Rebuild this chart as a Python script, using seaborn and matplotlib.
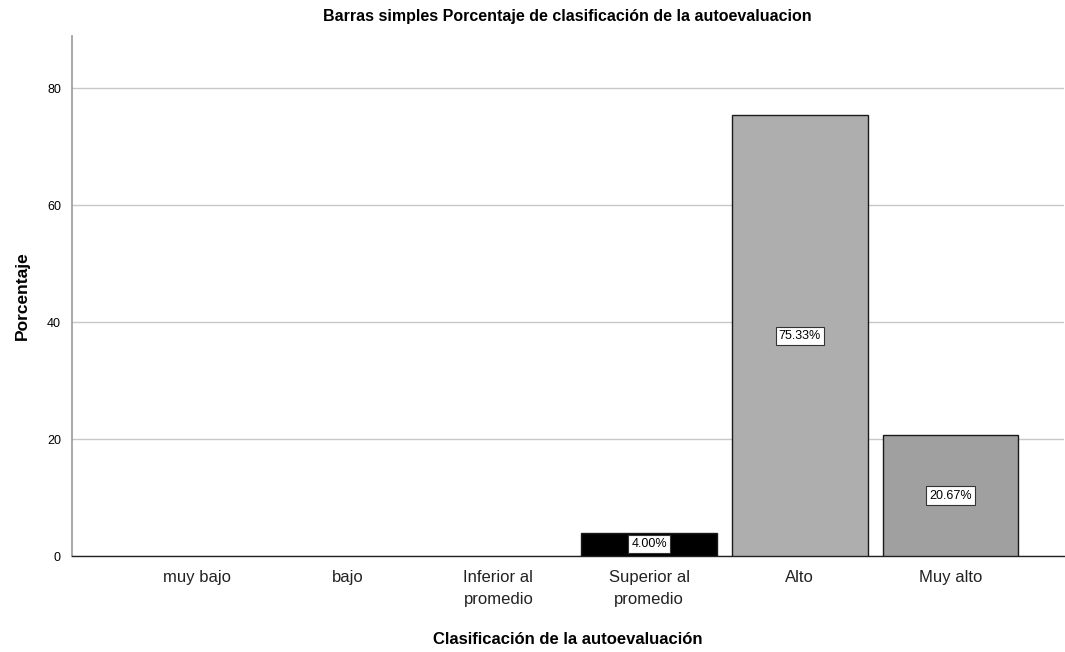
import matplotlib
matplotlib.use("Agg")
import matplotlib.pyplot as plt
import seaborn as sns
import pandas as pd

# datos
categorias = ['muy bajo', 'bajo', 'Inferior al\npromedio', 'Superior al\npromedio', 'Alto', 'Muy alto']
porcentajes = [0.0, 0.0, 0.0, 4.00, 75.33, 20.67]
colores = ['#b0b0b0', '#b0b0b0', '#b0b0b0', '#000000', '#aeaeae', '#a0a0a0']

sns.set_style("white")
plt.rcParams['font.family'] = ['Liberation Sans', 'DejaVu Sans']
plt.rcParams['text.color'] = 'black'
plt.rcParams['axes.labelcolor'] = 'black'

df = pd.DataFrame({'cat': categorias, 'pct': porcentajes})

fig = plt.figure(figsize=(10.65, 6.52), dpi=100)
ax = fig.add_axes([0.0676, 0.1472, 0.931, 0.7976])

sns.barplot(data=df, x='cat', y='pct', hue='cat', palette=colores, legend=False,
            width=0.9, edgecolor='#1a1a1a', linewidth=1.0, saturation=1, ax=ax, zorder=3)

# sin borde para las barras de valor cero
for p in ax.patches:
    if p.get_height() == 0:
        p.set_linewidth(0)

ax.set_ylim(0, 88.9)
ax.set_xlim(-0.83, 5.75)
ax.set_yticks([0, 20, 40, 60, 80])
ax.yaxis.grid(True, color='#c8c8c8', linewidth=1.0, zorder=0)
ax.set_axisbelow(True)
ax.tick_params(axis='y', labelsize=9, length=0, pad=8, colors='black')
ax.tick_params(axis='x', labelsize=12, length=0, pad=10, colors='#222222')
for lbl in ax.get_xticklabels():
    lbl.set_linespacing(1.55)

for s in ['top', 'right']:
    ax.spines[s].set_visible(False)
ax.spines['left'].set_color('#999999')
ax.spines['left'].set_linewidth(1.2)
ax.spines['bottom'].set_color('#222222')
ax.spines['bottom'].set_linewidth(1.0)

for i, v in enumerate(porcentajes):
    if v > 0:
        ax.text(i, v / 2, f'{v:.2f}%', ha='center', va='center', fontsize=9, zorder=5,
                bbox=dict(boxstyle='square,pad=0.25', facecolor='white', edgecolor='#333333', linewidth=0.8))

ax.set_title('Barras simples Porcentaje de clasificación de la autoevaluacion',
             fontsize=11.5, fontweight='bold', pad=11)
ax.set_xlabel('Clasificación de la autoevaluación', fontsize=12, fontweight='bold', labelpad=18)
ax.set_ylabel('Porcentaje', fontsize=12.5, fontweight='bold', labelpad=12)

fig.savefig('out.png', dpi=100)
